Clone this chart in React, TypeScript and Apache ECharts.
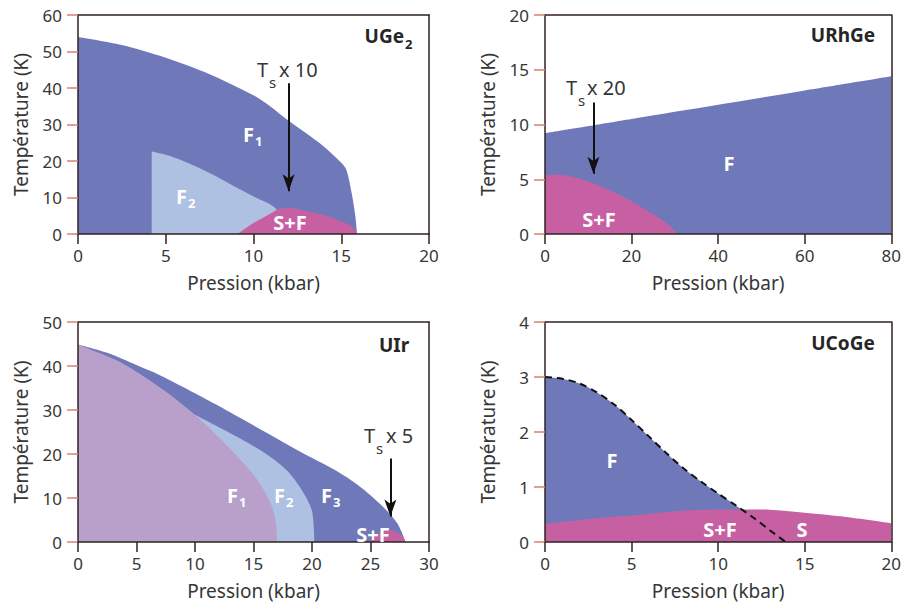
import React, { useEffect, useRef } from 'react';
import * as echarts from 'echarts';

const FONT = '"Noto Sans", Lato, sans-serif';

// ---------- UGe2 ----------
const ugeF1P = [0, 2.5, 5, 7.5, 10, 11, 12, 13, 14, 15, 15.3, 15.6, 15.8, 15.9];
const ugeF1T = [54, 51.8, 48.3, 43.8, 38, 34.8, 31, 27.6, 24, 19.5, 17.5, 11, 5, 0];
const ugeF2P = [4.2, 5, 6, 7.5, 9, 10, 11.3, 11.8];
const ugeF2T = [22.6, 21.7, 20, 16.7, 12.8, 10.3, 6.8, 0];
const ugeSFP = [9.1, 10, 11, 11.4, 12, 13, 14, 15, 15.6, 15.9];
const ugeSFT = [0, 3, 5.7, 6.8, 7.1, 6.3, 5.2, 3.4, 2.1, 0];
const ugeArrow = { p: 12, from: 41.3, to: 11.7 };

// ---------- URhGe ----------
const urhFP = [0, 20, 40, 60, 80];
const urhFT = [9.2, 10.5, 11.8, 13.1, 14.4];
const urhSFP = [0, 3, 10, 15, 20, 25, 28, 30, 30.5];
const urhSFT = [5.35, 5.4, 4.8, 4.0, 3.0, 1.8, 1.0, 0.3, 0];
const urhArrow = { p: 11.2, from: 12, to: 5.5 };

// ---------- UIr ----------
const uirF3P = [0, 2.5, 5, 7, 10, 13, 16, 19, 22, 24, 26, 27.3, 28];
const uirF3T = [44.9, 43, 40.2, 37.9, 33.8, 29.5, 25, 20.5, 16.3, 12.8, 8.2, 4.2, 0];
const uirF2P = [10, 13.3, 15.8, 17.8, 19.2, 20, 20.2];
const uirF2T = [28.9, 24.3, 20.5, 16.4, 11.5, 7, 0];
const uirF1P = [0, 3.3, 5, 7.55, 10, 12.7, 15, 16.4, 16.9, 17];
const uirF1T = [44.9, 41.3, 38.7, 34.1, 28.9, 22, 15.3, 9.2, 4.7, 0];
const uirSFP = [25, 25.3, 25.8, 26.5, 27.2, 27.7, 28];
const uirSFT = [0, 1.3, 2.2, 2.6, 2.3, 1.4, 0];
const uirArrow = { p: 26.7, from: 19, to: 5.8 };

// ---------- UCoGe ----------
const ucoFP = [0, 1, 2, 3, 4, 5, 6, 7, 8, 9, 10, 11, 12, 13, 13.9];
const ucoFT = [3, 2.97, 2.88, 2.72, 2.5, 2.22, 1.92, 1.62, 1.34, 1.1, 0.88, 0.67, 0.45, 0.21, 0];
const ucoSP = [0, 2.5, 5, 7.5, 10, 12.5, 15, 17.5, 20];
const ucoST = [0.33, 0.42, 0.48, 0.56, 0.59, 0.59, 0.53, 0.45, 0.34];

// axes: [max, interval]
const xRanges = [[20, 5], [80, 20], [30, 5], [20, 5]];
const yRanges = [[60, 10], [20, 5], [50, 10], [4, 1]];

const C_DARK = '#6f78b9';
const C_LIGHT = '#aec1e3';
const C_MAG = '#c660a3';
const C_LILAC = '#b9a0cb';
const AXIS_C = '#2e2220';
const TICK_Y = '#d9806b';
const TXT = '#363636';

const zip = (p: number[], t: number[]) => p.map((x, i) => [x, t[i]]);

const grids = [
  { left: 78, top: 15, width: 351, height: 219 },
  { left: 545, top: 15, width: 351, height: 219 },
  { left: 78, top: 322, width: 351, height: 220 },
  { left: 545, top: 322, width: 351, height: 220 },
];

function area(i: number, data: number[][], color: string, extra: any = {}) {
  return {
    type: 'line',
    xAxisIndex: i,
    yAxisIndex: i,
    data,
    showSymbol: false,
    symbol: 'none',
    smooth: 0.3,
    lineStyle: { width: 0 },
    areaStyle: { color, opacity: 1 },
    silent: true,
    ...extra,
  };
}

function arrow(a: { p: number; from: number; to: number }) {
  return {
    silent: true,
    symbol: ['none', 'arrow'],
    symbolSize: [9, 17],
    label: { show: false },
    lineStyle: { color: '#111', width: 2, type: 'solid' },
    data: [[{ coord: [a.p, a.from] }, { coord: [a.p, a.to] }]],
  };
}

function txt(x: number, y: number, text: string, size: number, color: string, weight: string, align: string) {
  return {
    type: 'text',
    x,
    y,
    z: 20,
    silent: true,
    style: {
      text,
      fill: color,
      fontSize: size,
      fontFamily: FONT,
      fontWeight: weight,
      align,
      verticalAlign: 'middle',
    },
  };
}

const WHITE = { size: 20, color: '#ffffff', weight: 'bold' };
const DARK = { size: 20, color: TXT, weight: 'normal' };
const TITLE = { size: 19, color: '#262626', weight: 'bold' };

// label with subscript: main text right-aligned at junction jx
function subLabel(jx: number, y: number, main: string, s: string, st: any, dy: number, subSize: number, rest?: string, restX?: number) {
  const out: any[] = [
    txt(jx, y, main, st.size, st.color, st.weight, 'right'),
    txt(jx + 1, y + dy, s, subSize, st.color, st.weight, 'left'),
  ];
  if (rest) out.push(txt(restX as number, y, rest, st.size, st.color, st.weight, 'left'));
  return out;
}

export default function App() {
  const ref = useRef<HTMLDivElement>(null);
  useEffect(() => {
    document.body.style.margin = '0';
    const chart = echarts.init(ref.current!, null, { renderer: 'svg' });

    const xAxes: any[] = [];
    const yAxes: any[] = [];
    for (let i = 0; i < 4; i++) {
      xAxes.push({
        gridIndex: i,
        type: 'value',
        min: 0,
        max: xRanges[i][0],
        interval: xRanges[i][1],
        z: 6,
        axisLine: { onZero: false, lineStyle: { color: AXIS_C, width: 1.5 } },
        axisTick: { length: 10, lineStyle: { color: AXIS_C, width: 1.5 } },
        axisLabel: { fontSize: 17, color: TXT, margin: 13, fontFamily: FONT },
        splitLine: { show: false },
        name: 'Pression (kbar)',
        nameLocation: 'middle',
        nameGap: 39,
        nameTextStyle: { fontSize: 19, color: TXT, fontFamily: FONT },
      });
      yAxes.push({
        gridIndex: i,
        type: 'value',
        min: 0,
        max: yRanges[i][0],
        interval: yRanges[i][1],
        z: 6,
        axisLine: { onZero: false, lineStyle: { color: AXIS_C, width: 1.5 } },
        axisTick: { length: 11, lineStyle: { color: TICK_Y, width: 1.5 } },
        axisLabel: { fontSize: 17, color: TXT, margin: 16, fontFamily: FONT },
        splitLine: { show: false },
        name: 'Température (K)',
        nameLocation: 'middle',
        nameGap: 48,
        nameTextStyle: { fontSize: 19, color: TXT, fontFamily: FONT },
      });
    }
    for (let i = 0; i < 4; i++) {
      xAxes.push({
        gridIndex: i,
        type: 'value',
        position: 'top',
        min: 0,
        max: xRanges[i][0],
        z: 6,
        axisLine: { onZero: false, lineStyle: { color: AXIS_C, width: 1.5 } },
        axisTick: { show: false },
        axisLabel: { show: false },
        splitLine: { show: false },
      });
      yAxes.push({
        gridIndex: i,
        type: 'value',
        position: 'right',
        min: 0,
        max: yRanges[i][0],
        z: 6,
        axisLine: { onZero: false, lineStyle: { color: AXIS_C, width: 1.5 } },
        axisTick: { show: false },
        axisLabel: { show: false },
        splitLine: { show: false },
      });
    }

    const series: any[] = [
      // UGe2
      area(0, zip(ugeF1P, ugeF1T), C_DARK),
      area(0, zip(ugeF2P, ugeF2T), C_LIGHT),
      area(0, zip(ugeSFP, ugeSFT), C_MAG, { markLine: arrow(ugeArrow) }),
      // URhGe
      area(1, zip(urhFP, urhFT), C_DARK),
      area(1, zip(urhSFP, urhSFT), C_MAG, { markLine: arrow(urhArrow) }),
      // UIr
      area(2, zip(uirF3P, uirF3T), C_DARK),
      area(2, zip(uirF2P, uirF2T), C_LIGHT),
      area(2, zip(uirF1P, uirF1T), C_LILAC),
      area(2, zip(uirSFP, uirSFT), C_MAG, { markLine: arrow(uirArrow) }),
      // UCoGe
      area(3, zip(ucoFP, ucoFT), C_DARK),
      area(3, zip(ucoSP, ucoST), C_MAG),
      {
        type: 'line',
        xAxisIndex: 3,
        yAxisIndex: 3,
        data: zip(ucoFP, ucoFT),
        showSymbol: false,
        symbol: 'none',
        smooth: 0.3,
        silent: true,
        z: 4,
        lineStyle: { color: '#111', width: 2, type: [7, 5] },
      },
    ];

    const graphic: any[] = [
      // UGe2
      ...subLabel(404, 36, 'UGe', '2', TITLE, 8, 13),
      ...subLabel(268, 69, 'T', 's', DARK, 13, 15, 'x 10', 279),
      ...subLabel(254, 134, 'F', '1', WHITE, 7, 13),
      ...subLabel(187, 196, 'F', '2', WHITE, 7, 13),
      txt(290, 222, 'S+F', WHITE.size, WHITE.color, WHITE.weight, 'center'),
      // URhGe
      txt(843, 35, 'URhGe', TITLE.size, TITLE.color, TITLE.weight, 'center'),
      ...subLabel(577, 87, 'T', 's', DARK, 13, 15, 'x 20', 587),
      txt(729, 163, 'F', WHITE.size, WHITE.color, WHITE.weight, 'center'),
      txt(599, 219, 'S+F', WHITE.size, WHITE.color, WHITE.weight, 'center'),
      // UIr
      txt(394, 345, 'UIr', TITLE.size, TITLE.color, TITLE.weight, 'center'),
      ...subLabel(375, 435, 'T', 's', DARK, 13, 15, 'x 5', 386),
      ...subLabel(238, 495, 'F', '1', WHITE, 7, 13),
      ...subLabel(285, 495, 'F', '2', WHITE, 7, 13),
      ...subLabel(332, 495, 'F', '3', WHITE, 7, 13),
      txt(373, 534, 'S+F', WHITE.size, WHITE.color, WHITE.weight, 'center'),
      // UCoGe
      txt(843, 343, 'UCoGe', TITLE.size, TITLE.color, TITLE.weight, 'center'),
      txt(612, 460, 'F', WHITE.size, WHITE.color, WHITE.weight, 'center'),
      txt(720, 529, 'S+F', WHITE.size, WHITE.color, WHITE.weight, 'center'),
      txt(802, 529, 'S', WHITE.size, WHITE.color, WHITE.weight, 'center'),
    ];

    chart.setOption({
      animation: false,
      backgroundColor: '#ffffff',
      textStyle: { fontFamily: FONT },
      grid: grids,
      xAxis: xAxes,
      yAxis: yAxes,
      series,
      graphic,
    });
    return () => chart.dispose();
  }, []);
  return <div ref={ref} style={{ width: 904, height: 608 }} />;
}
